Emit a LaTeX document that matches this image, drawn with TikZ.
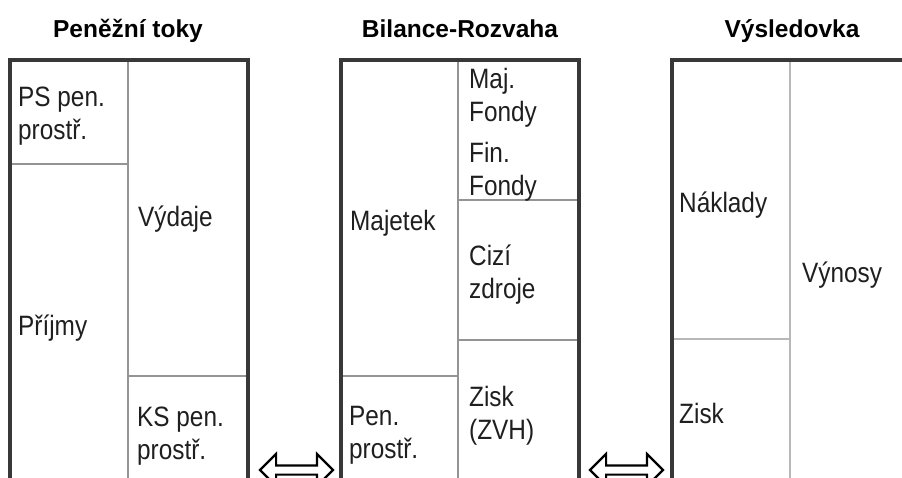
\documentclass[tikz,border=0pt]{standalone}
\usepackage{fontspec}
\setmainfont{Liberation Sans}
\newfontfamily\bodyfont{Liberation Sans}[FakeStretch=0.87]
\usetikzlibrary{shapes.arrows}
\tikzset{
  outerline/.style={line width=3.2pt, draw=black!78},
  innerline/.style={line width=1.6pt, draw=black!42},
  lightline/.style={line width=1.8pt, draw=black!28},
  lbl/.style={anchor=base west, inner sep=0pt, align=left, text=black!88,
    font=\bodyfont\fontsize{28}{33}\selectfont},
  ttl/.style={anchor=base, inner sep=0pt, text=black,
    font=\bfseries\fontsize{24.5}{29}\selectfont},
  dblarrow/.style={double arrow, draw=black, line width=2.2pt, fill=white,
    minimum height=73pt, minimum width=30pt, inner xsep=0pt, inner ysep=3.5pt,
    double arrow head extend=11.5pt, double arrow tip angle=90}
}
\begin{document}
\begin{tikzpicture}[x=1pt,y=-1pt]
\useasboundingbox (0,0) rectangle (902,477);
\clip (0,0) rectangle (902,477);
\fill[white] (0,0) rectangle (902,477);

% titles
\node[ttl] (t1) at (128,37) {Peněžní toky};
\node[ttl] (t2) at (460,37) {Bilance-Rozvaha};
\node[ttl] (t3) at (792,37) {Výsledovka};

% panel 1: Peněžní toky
\draw[innerline] (128,60) -- (128,490);
\draw[innerline] (10,164) -- (128,164);
\draw[innerline] (128,376) -- (248,376);
\draw[outerline] (10,490) -- (10,60) -- (248,60) -- (248,490);

% panel 2: Bilance-Rozvaha
\draw[innerline] (458,60) -- (458,490);
\draw[innerline] (458,200) -- (579,200);
\draw[innerline] (458,340) -- (579,340);
\draw[innerline] (341,376) -- (458,376);
\draw[outerline] (341,490) -- (341,60) -- (579,60) -- (579,490);

% panel 3: Výsledovka
\draw[lightline] (790,60) -- (790,490);
\draw[lightline] (672,339) -- (790,339);
\draw[outerline] (672,490) -- (672,60) -- (905,60);

% labels panel 1 (anchor = baseline of last line)
\node[lbl] (ps) at (18,139) {PS pen.\\prostř.};
\node[lbl] (vydaje) at (138,226) {Výdaje};
\node[lbl] (prijmy) at (18,335) {Příjmy};
\node[lbl] (ks) at (137,459) {KS pen.\\prostř.};

% labels panel 2
\node[lbl] (maj) at (469,121) {Maj.\\Fondy};
\node[lbl] (fin) at (469,195) {Fin.\\Fondy};
\node[lbl] (majetek) at (350,230) {Majetek};
\node[lbl] (cizi) at (469,298) {Cizí\\zdroje};
\node[lbl] (zisk1) at (469,439) {Zisk\\(ZVH)};
\node[lbl] (pen) at (349,458) {Pen.\\prostř.};

% labels panel 3
\node[lbl] (naklady) at (679,212) {Náklady};
\node[lbl] (vynosy) at (802,282) {Výnosy};
\node[lbl] (zisk2) at (679,423) {Zisk};

% double arrows between panels
\node[dblarrow] (ar1) at (296.5,470) {};
\node[dblarrow] (ar2) at (626.5,470) {};
\end{tikzpicture}
\end{document}
